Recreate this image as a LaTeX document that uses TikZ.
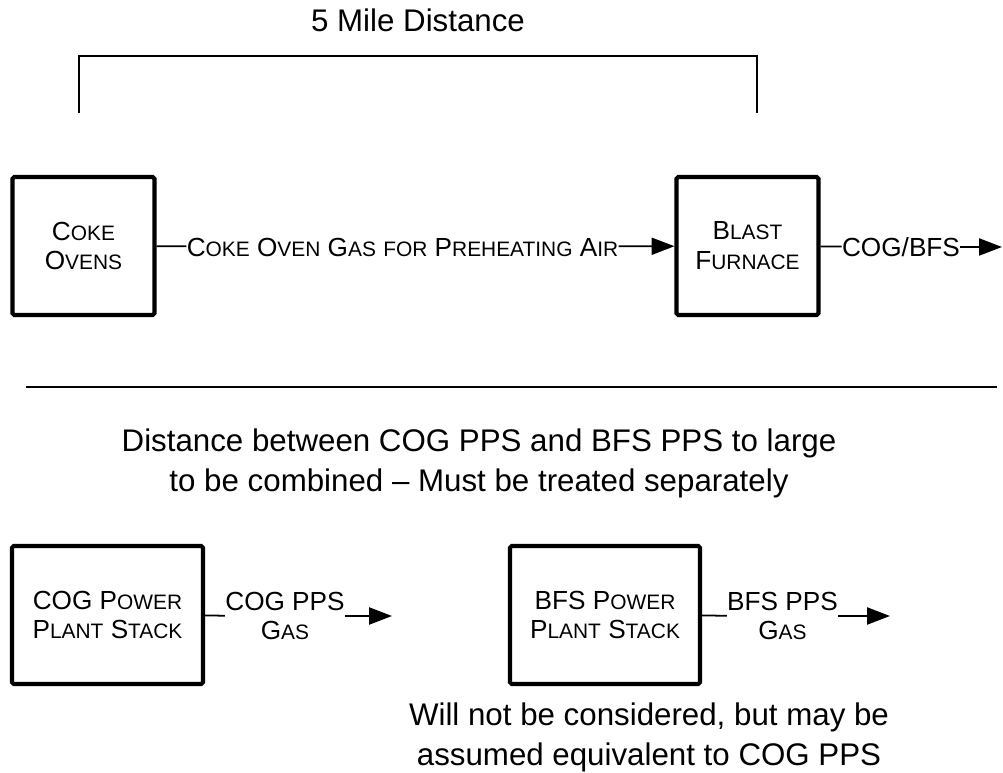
\documentclass[tikz,border=0pt]{standalone}
\usepackage{fontspec}
\setmainfont{Liberation Sans}
\usepackage{tikz}
\usetikzlibrary{positioning, arrows.meta}
\newcommand{\smc}[1]{{\fontsize{11.9}{17}\selectfont #1}}

\begin{document}
\begin{tikzpicture}[
    unitbox/.style={draw, line width=2.3pt, rounded corners=1pt, minimum width=2.84cm, minimum height=2.76cm, align=center, font=\fontsize{14.9}{17}\selectfont},
    flowlbl/.style={inner sep=0pt, align=center, font=\fontsize{14.9}{16}\selectfont},
    note/.style={align=center, font=\fontsize{17.8}{22.8}\selectfont},
    flowline/.style={line width=1pt},
    flow/.style={line width=1pt, arrows = {-Triangle[width=9.7pt, length=13pt]}}
  ]
    \useasboundingbox (0,0) rectangle (20.06,15.44);

    \node[note, anchor=base] at (8.36,14.80) (dist) {5 Mile Distance};
    \draw[line width=0.6pt] (1.58,13.18) -- (1.58,14.32) -- (15.14,14.32) -- (15.14,13.18);

    \node[unitbox] at (1.67,10.52) (ovens) {C\smc{OKE}\\O\smc{VENS}};
    \node[unitbox] at (14.95,10.52) (furnace) {B\smc{LAST}\\F\smc{URNACE}};
    \node[flowlbl] at (8.05,10.50) (cog) {C\smc{OKE} O\smc{VEN} G\smc{AS} \smc{FOR} P\smc{REHEATING} A\smc{IR}};
    \node[flowlbl] at (18.02,10.50) (cogbfs) {COG/BFS};
    \coordinate (out) at (20.04,10.50);

    \draw[flowline] (ovens) -- (cog);
    \draw[flow] (cog) -- (furnace);
    \draw[flowline] (furnace) -- (cogbfs);
    \draw[flow] (cogbfs) -- (out);

    \draw[line width=1.1pt] (0.52,7.70) -- (19.94,7.70);

    \node[note] at (9.58,6.18) (apart) {Distance between COG PPS and BFS PPS to large\\to be combined -- Must be treated separately};

    \node[unitbox, minimum width=3.82cm] at (2.15,3.14) (cogpps) {COG P\smc{OWER}\\P\smc{LANT} S\smc{TACK}};
    \node[unitbox, minimum width=3.80cm] at (12.10,3.14) (bfspps) {BFS P\smc{OWER}\\P\smc{LANT} S\smc{TACK}};
    \node[flowlbl] at (5.70,3.12) (coggas) {COG PPS\\G\smc{AS}};
    \node[flowlbl] at (15.65,3.12) (bfsgas) {BFS PPS\\G\smc{AS}};
    \coordinate (cogend) at (7.84,3.12);
    \coordinate (bfsend) at (17.80,3.12);

    \draw[flowline] (cogpps) -- (coggas);
    \draw[flow] (coggas) -- (cogend);
    \draw[flowline] (bfspps) -- (bfsgas);
    \draw[flow] (bfsgas) -- (bfsend);

    \node[note] at (12.98,0.70) (ignored) {Will not be considered, but may be\\assumed equivalent to COG PPS};
  \end{tikzpicture}
\end{document}
